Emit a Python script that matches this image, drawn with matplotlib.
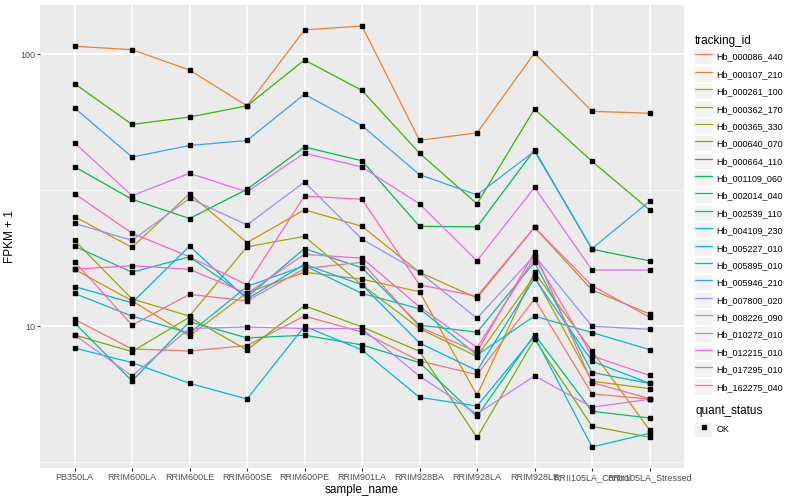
import numpy as np
import matplotlib
matplotlib.use('Agg')
import matplotlib.pyplot as plt
from matplotlib.lines import Line2D
from matplotlib.patches import Rectangle
from matplotlib.legend_handler import HandlerTuple

plt.rcParams['font.family'] = ['Liberation Sans', 'DejaVu Sans']

samples = ['PB350LA', 'RRIM600LA', 'RRIM600LE', 'RRIM600SE', 'RRIM600PE', 'RRIM901LA',
           'RRIM928BA', 'RRIM928LA', 'RRIM928LE', 'RRII105LA_Control', 'RRII105LA_Stressed']

tracking_ids = ['Hb_000086_440', 'Hb_000107_210', 'Hb_000261_100', 'Hb_000362_170',
                'Hb_000365_330', 'Hb_000640_070', 'Hb_000664_110', 'Hb_001109_060',
                'Hb_002014_040', 'Hb_002539_110', 'Hb_004109_230', 'Hb_005227_010',
                'Hb_005895_010', 'Hb_005946_210', 'Hb_007800_020', 'Hb_008226_090',
                'Hb_010272_010', 'Hb_012215_010', 'Hb_017295_010', 'Hb_162275_040']

# FPKM + 1, one row per tracking_id
fpkm = [
    [10.6, 8.25, 8.11, 8.49, 10.9, 9.53, 7.46, 6.64, 12.6, 5.64, 5.40],
    [107, 104, 87.5, 64.6, 123, 127, 48.3, 51.4, 101, 61.7, 60.7],
    [16.2, 12.4, 9.21, 13.3, 15.8, 14.9, 13.4, 5.58, 15.8, 8.11, 4.16],
    [25.3, 19.5, 30.7, 20.3, 26.8, 23.3, 15.8, 12.7, 23.1, 13.6, 11.1],
    [20.7, 12.6, 10.9, 19.6, 21.4, 14.2, 9.81, 7.74, 15.3, 6.28, 5.90],
    [9.29, 8.07, 10.8, 8.18, 11.9, 9.94, 8.09, 3.90, 8.96, 4.29, 3.91],
    [78, 55.2, 58.8, 64.6, 95.3, 73.6, 43.3, 28.2, 62.9, 40.4, 26.8],
    [38.6, 29.3, 24.9, 31.9, 45.6, 40.6, 23.3, 23.2, 44.5, 19.2, 17.4],
    [10.3, 6.29, 10.4, 9.06, 9.27, 8.54, 7.35, 4.66, 9.32, 4.87, 4.60],
    [19.7, 15.8, 18.0, 12.8, 19.3, 16.4, 10.1, 9.51, 17.2, 6.76, 6.17],
    [13.2, 10.9, 9.43, 14.0, 16.7, 13.2, 11.6, 7.84, 10.9, 9.48, 8.21],
    [8.32, 7.35, 6.17, 5.40, 10.0, 8.18, 5.48, 5.09, 9.17, 3.60, 4.04],
    [14.0, 12.2, 19.7, 12.6, 16.9, 14.2, 8.68, 6.87, 15.0, 7.44, 6.17],
    [63.5, 41.9, 46.2, 48.2, 71.3, 54.6, 36.1, 30.4, 44.0, 19.3, 28.8],
    [23.9, 20.7, 29.5, 23.6, 33.9, 20.9, 15.8, 10.7, 18.2, 10.0, 9.75],
    [9.29, 6.57, 9.81, 9.94, 9.81, 9.81, 6.55, 4.76, 6.57, 5.04, 5.39],
    [47.3, 30.2, 36.5, 31.2, 43.3, 38.5, 28.2, 17.4, 32.4, 16.1, 16.1],
    [16.2, 16.7, 16.2, 13.2, 18.4, 17.8, 11.8, 8.35, 17.9, 7.78, 6.60],
    [30.7, 22.0, 18.0, 14.2, 30.1, 29.3, 14.2, 12.9, 23.1, 14.1, 10.8],
    [17.3, 10.1, 13.1, 12.4, 16.3, 17.2, 9.94, 8.05, 18.7, 6.21, 5.42],
]

# ggplot2 default hue palette for 20 groups
colors = ['#F8766D', '#EA8331', '#D89000', '#C09B00', '#A3A500', '#7CAE00', '#39B600',
          '#00BB4E', '#00BF7D', '#00C1A3', '#00BFC4', '#00BAE0', '#00B0F6', '#35A2FF',
          '#9590FF', '#C77CFF', '#E76BF3', '#FA62DB', '#FF62BC', '#FF6C91']

fig = plt.figure(figsize=(8, 5), dpi=100)
ax = fig.add_axes([0.05, 0.064, 0.805, 0.926])
ax.set_facecolor('#EBEBEB')

x = np.arange(len(samples))
for vals, c in zip(fpkm, colors):
    ax.plot(x, vals, color=c, lw=0.9, zorder=2)
for vals in fpkm:
    ax.plot(x, vals, 's', color='black', ms=2.2, zorder=3)

ax.set_yscale('log')
allv = np.log10(np.array(fpkm))
lo, hi = allv.min(), allv.max()
pad = (hi - lo) * 0.05
ax.set_ylim(10 ** (lo - pad), 10 ** (hi + pad))
ax.set_xlim(-0.6, len(samples) - 0.4)

ax.set_yticks([10, 100])
ax.set_yticklabels(['10', '100'])
ax.set_yticks([10 ** 0.5, 10 ** 1.5], minor=True)
ax.yaxis.set_minor_formatter(plt.NullFormatter())
ax.set_xticks(x)
ax.set_xticklabels(samples)

ax.grid(which='major', color='white', lw=1.1, zorder=0)
ax.grid(which='minor', axis='y', color='white', lw=0.55, zorder=0)
ax.set_axisbelow(True)
for s in ax.spines.values():
    s.set_visible(False)
ax.tick_params(which='major', length=2.2, width=0.8, color='#333333',
               labelsize=6.5, labelcolor='#4D4D4D', pad=1.5)
ax.tick_params(which='minor', length=0)

ax.set_xlabel('sample_name', fontsize=8.5, labelpad=1)
ax.set_ylabel('FPKM + 1', fontsize=8.5, labelpad=3)

# legends with grey key boxes like ggplot
key_bg = dict(facecolor='#F2F2F2', edgecolor='none')
hmap = {tuple: HandlerTuple(ndivide=1, pad=0)}
handles1 = [(Rectangle((0, 0), 1, 1, **key_bg), Line2D([], [], color=c, lw=0.9)) for c in colors]
leg1 = ax.legend(handles1, tracking_ids, title='tracking_id', loc='upper left',
                 bbox_to_anchor=(0.869, 0.93), bbox_transform=fig.transFigure,
                 frameon=False, fontsize=6.5, title_fontsize=8.5, alignment='left',
                 handlelength=1.9, handleheight=2.2, labelspacing=0.25, handletextpad=0.45,
                 borderpad=0, borderaxespad=0, handler_map=hmap)
ax.add_artist(leg1)

handles2 = [(Rectangle((0, 0), 1, 1, **key_bg),
             Line2D([], [], ls='none', marker='s', color='black', ms=2.2))]
leg2 = ax.legend(handles2, ['OK'], title='quant_status', loc='upper left',
                 bbox_to_anchor=(0.869, 0.19), bbox_transform=fig.transFigure,
                 frameon=False, fontsize=6.5, title_fontsize=8.5, alignment='left',
                 handlelength=1.9, handleheight=2.2, handletextpad=0.45,
                 borderpad=0, borderaxespad=0, handler_map=hmap)

fig.savefig('out.png', dpi=100)
